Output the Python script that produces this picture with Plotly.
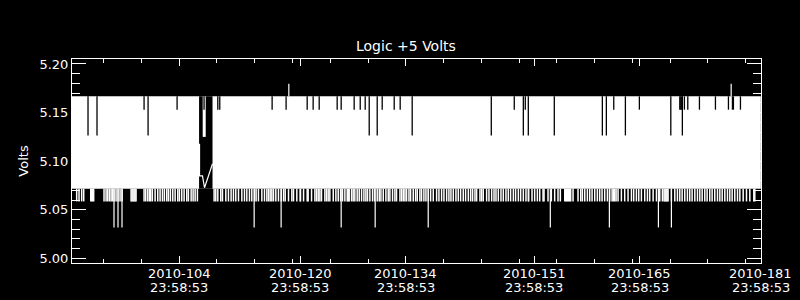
import plotly.graph_objects as go

# ---------------- data (day-of-year 2010, volts) ----------------
title_text = "Logic +5 Volts"
y_title = "Volts"
x_range = [90.82, 182.02]
y_range = [4.9953, 5.2051]

major_days = [104, 120, 134, 151, 165, 181]
major_clock = "23:58:53"
major_frac = 86333 / 86400.0
minor_days = [95, 100, 105, 110, 115, 120, 125, 130, 135, 140, 145, 150,
              155, 160, 165, 170, 175, 180]
y_ticks = [5.00, 5.05, 5.10, 5.15, 5.20]

data_start, data_end = 90.82, 182.0
level_high = 5.1667
level_low = 5.0717
level_dip = 5.0586
level_deep = 5.0319
level_notch = 5.1530
level_notch_deep = 5.1265
level_peak = 5.1797

dip_days = [
    91.44, 91.75, 92.10, 92.37, 93.30, 93.43, 93.56, 93.69, 95.06, 95.33,
    95.55, 95.77, 95.99, 96.17, 96.39, 96.65, 96.92, 97.18, 97.45, 98.64,
    98.77, 98.90, 99.04, 99.17, 99.30, 100.36, 100.58, 100.85, 101.07, 101.24,
    101.46, 101.82, 102.17, 102.48, 102.79, 103.05, 103.36, 103.58, 103.85,
    104.16, 104.47, 104.82, 105.04, 105.35, 105.66, 106.01, 106.23, 106.59,
    106.85, 107.12, 107.42, 109.63, 109.85, 110.12, 110.51, 110.74, 111.18,
    111.53, 111.88, 112.19, 112.50, 112.86, 113.30, 113.65, 113.96, 114.31,
    114.62, 114.97, 115.19, 115.50, 115.95, 116.30, 116.61, 116.83, 117.05,
    117.27, 117.49, 117.80, 118.15, 118.51, 118.82, 119.04, 119.48, 119.92,
    120.14, 120.58, 121.02,
    121.07, 121.47, 121.95, 122.08, 122.53, 122.97, 123.19, 123.41, 123.63,
    123.85, 124.29, 124.51, 124.73, 124.95, 125.40, 125.75, 126.06, 126.37,
    126.63, 126.94, 127.25, 127.38, 127.51, 127.82, 128.04, 128.26, 128.57,
    128.84, 129.15, 129.46, 129.72, 129.94, 130.25, 130.60, 130.87, 131.22,
    131.49, 131.71, 132.02, 132.37, 132.68, 132.90, 133.25, 133.56, 133.78,
    134.23, 134.45, 134.67, 134.89, 135.11, 135.42, 135.64, 135.99, 136.30,
    136.52, 136.87, 137.09, 137.40, 137.67, 137.98, 138.29, 138.64, 139.08,
    139.39, 139.74, 140.05, 140.41, 140.71, 140.98, 141.29, 141.64, 141.95,
    142.26, 142.61, 142.92, 143.28, 143.59, 143.85, 144.16, 144.38, 144.82,
    145.04, 145.26, 145.70, 146.01, 146.37, 146.68, 146.94, 147.25, 147.60,
    147.91, 148.26, 148.57, 148.88, 149.24, 149.54, 149.90, 150.21, 150.56,
    150.91, 151.22,
    151.27, 151.71, 152.06, 152.42, 152.73, 153.17, 153.30, 153.83, 154.27,
    154.71, 155.15, 155.46, 156.04, 156.17, 156.30, 156.43, 156.57, 156.70,
    156.83, 157.14, 157.80, 158.16, 158.38, 158.69, 159.04, 159.35, 159.66,
    160.01, 160.36, 160.67, 160.98, 161.33, 161.69, 162.00, 162.31, 162.48,
    162.66, 162.84, 163.10, 163.54, 163.98, 164.42, 164.87, 165.17, 165.53,
    165.84, 166.19, 166.63, 166.99, 167.29, 167.74, 168.18, 168.62, 168.97,
    169.19, 169.33, 169.46, 169.59, 169.72, 170.16, 170.61, 170.96, 171.27,
    171.58, 171.93, 172.28, 172.59, 172.90, 173.26, 173.61, 173.92, 174.23,
    174.58, 174.89, 175.24, 175.55, 175.90, 176.26, 176.57, 176.88, 177.23,
    177.58, 177.89, 178.20, 178.55, 178.91, 179.22, 179.66, 180.10, 180.54,
    181.07, 181.20,
]
deep_dip_days = [96.38, 96.91, 97.44, 114.93, 118.50, 126.45, 130.95,
                 137.97, 154.13, 161.95, 168.44, 170.16]
notch_days = [100.36, 104.73, 110.12, 110.38, 117.31, 119.16, 121.95, 122.74,
              123.54, 125.92, 126.45, 128.17, 128.97, 129.63, 131.88, 133.47,
              134.26, 149.36, 150.82, 162.53, 165.92, 171.27, 171.40, 171.53,
              171.88, 172.33, 173.87, 175.99, 177.71, 178.24, 178.37, 179.30]
deep_notch_days = [92.94, 94.13, 100.89, 130.16, 131.22, 135.85, 146.32,
                   150.56, 151.22, 154.66, 161.02, 161.55, 164.07, 170.08,
                   171.61]
peak_days = [119.52, 178.07]

gap_start, gap_end = 107.64, 109.42
gap_top_days = [108.12, 108.52]
gap_top_floor = 5.1250
gap_notch_days = [108.30]
gap_trace_days = [107.70, 107.70, 108.09, 108.36, 109.42]
gap_trace_volts = [5.1180, 5.0850, 5.0850, 5.0727, 5.0974]

FONT = "DejaVu Sans"
WHITE = "white"
BLACK = "black"


def segments(days, y0, y1):
    xs, ys = [], []
    for d in days:
        xs += [d, d, None]
        ys += [y0, y1, None]
    return xs, ys


def rect(x0, x1, y0, y1):
    return [x0, x1, x1, x0, x0], [y0, y0, y1, y1, y0]


fig = go.Figure()

bx, by = rect(data_start, data_end, level_low, level_high)
fig.add_trace(go.Scatter(x=bx, y=by, mode="lines", fill="toself",
                         fillcolor=WHITE, line=dict(width=0), hoverinfo="skip"))

for days, y0, y1, col, w in [
    (dip_days, level_low, level_dip, WHITE, 1.5),
    (deep_dip_days, level_low, level_deep, WHITE, 1.2),
    (peak_days, level_high, level_peak, WHITE, 1.2),
    (notch_days, level_high, level_notch, BLACK, 1.3),
    (deep_notch_days, level_high, level_notch_deep, BLACK, 1.3),
]:
    sx, sy = segments(days, y0, y1)
    fig.add_trace(go.Scatter(x=sx, y=sy, mode="lines",
                             line=dict(color=col, width=w), hoverinfo="skip"))

gx, gy = rect(gap_start, gap_end, level_low, level_high)
fig.add_trace(go.Scatter(x=gx, y=gy, mode="lines", fill="toself",
                         fillcolor=BLACK, line=dict(width=0), hoverinfo="skip"))
tx, ty = rect(gap_top_days[0], gap_top_days[1], gap_top_floor, level_high)
fig.add_trace(go.Scatter(x=tx, y=ty, mode="lines", fill="toself",
                         fillcolor=WHITE, line=dict(width=0), hoverinfo="skip"))
sx, sy = segments(gap_notch_days, level_high, level_notch)
fig.add_trace(go.Scatter(x=sx, y=sy, mode="lines",
                         line=dict(color=BLACK, width=1.3), hoverinfo="skip"))
fig.add_trace(go.Scatter(x=gap_trace_days, y=gap_trace_volts, mode="lines",
                         line=dict(color=WHITE, width=1.2), hoverinfo="skip"))

major_pos = [d + major_frac for d in major_days]

annotations = []
for d, p in zip(major_days, major_pos):
    annotations.append(dict(x=p, y=-0.052, xref="x", yref="paper",
                            text=f"2010-{d:03d}", showarrow=False,
                            xanchor="center", yanchor="middle",
                            font=dict(family=FONT, size=13, color=WHITE)))
    annotations.append(dict(x=p, y=-0.118, xref="x", yref="paper",
                            text=major_clock, showarrow=False,
                            xanchor="center", yanchor="middle",
                            font=dict(family=FONT, size=13, color=WHITE)))
annotations.append(dict(x=0.4847, y=1.065, xref="paper", yref="paper",
                        text=title_text, showarrow=False,
                        xanchor="center", yanchor="middle",
                        font=dict(family=FONT, size=14, color=WHITE)))
annotations.append(dict(x=-0.0716, y=0.5, xref="paper", yref="paper",
                        text=y_title, showarrow=False, textangle=-90,
                        xanchor="center", yanchor="middle",
                        font=dict(family=FONT, size=13, color=WHITE)))

fig.update_layout(
    width=800, height=300,
    margin=dict(l=72, r=39, t=59, b=37, pad=0),
    paper_bgcolor=BLACK, plot_bgcolor=BLACK,
    showlegend=False, hovermode=False,
    annotations=annotations,
    xaxis=dict(range=x_range, showgrid=False, zeroline=False,
               showline=True, linecolor=WHITE, linewidth=1, mirror="ticks",
               ticks="inside", ticklen=7, tickwidth=1, tickcolor=WHITE,
               tickmode="array", tickvals=major_pos, showticklabels=False,
               minor=dict(tickmode="array", tickvals=minor_days, ticks="inside",
                          ticklen=4, tickwidth=1, tickcolor=WHITE,
                          showgrid=False)),
    yaxis=dict(range=y_range, showgrid=False, zeroline=False,
               showline=True, linecolor=WHITE, linewidth=1, mirror="ticks",
               ticks="inside", ticklen=14, tickwidth=1, tickcolor=WHITE,
               tickmode="array", tickvals=y_ticks,
               ticktext=[f"{v:.2f}" for v in y_ticks],
               tickfont=dict(family=FONT, size=13, color=WHITE),
               minor=dict(dtick=0.01, tick0=5.0, ticks="inside", ticklen=8,
                          tickwidth=1, tickcolor=WHITE, showgrid=False)),
)

fig.write_html("out.html")
